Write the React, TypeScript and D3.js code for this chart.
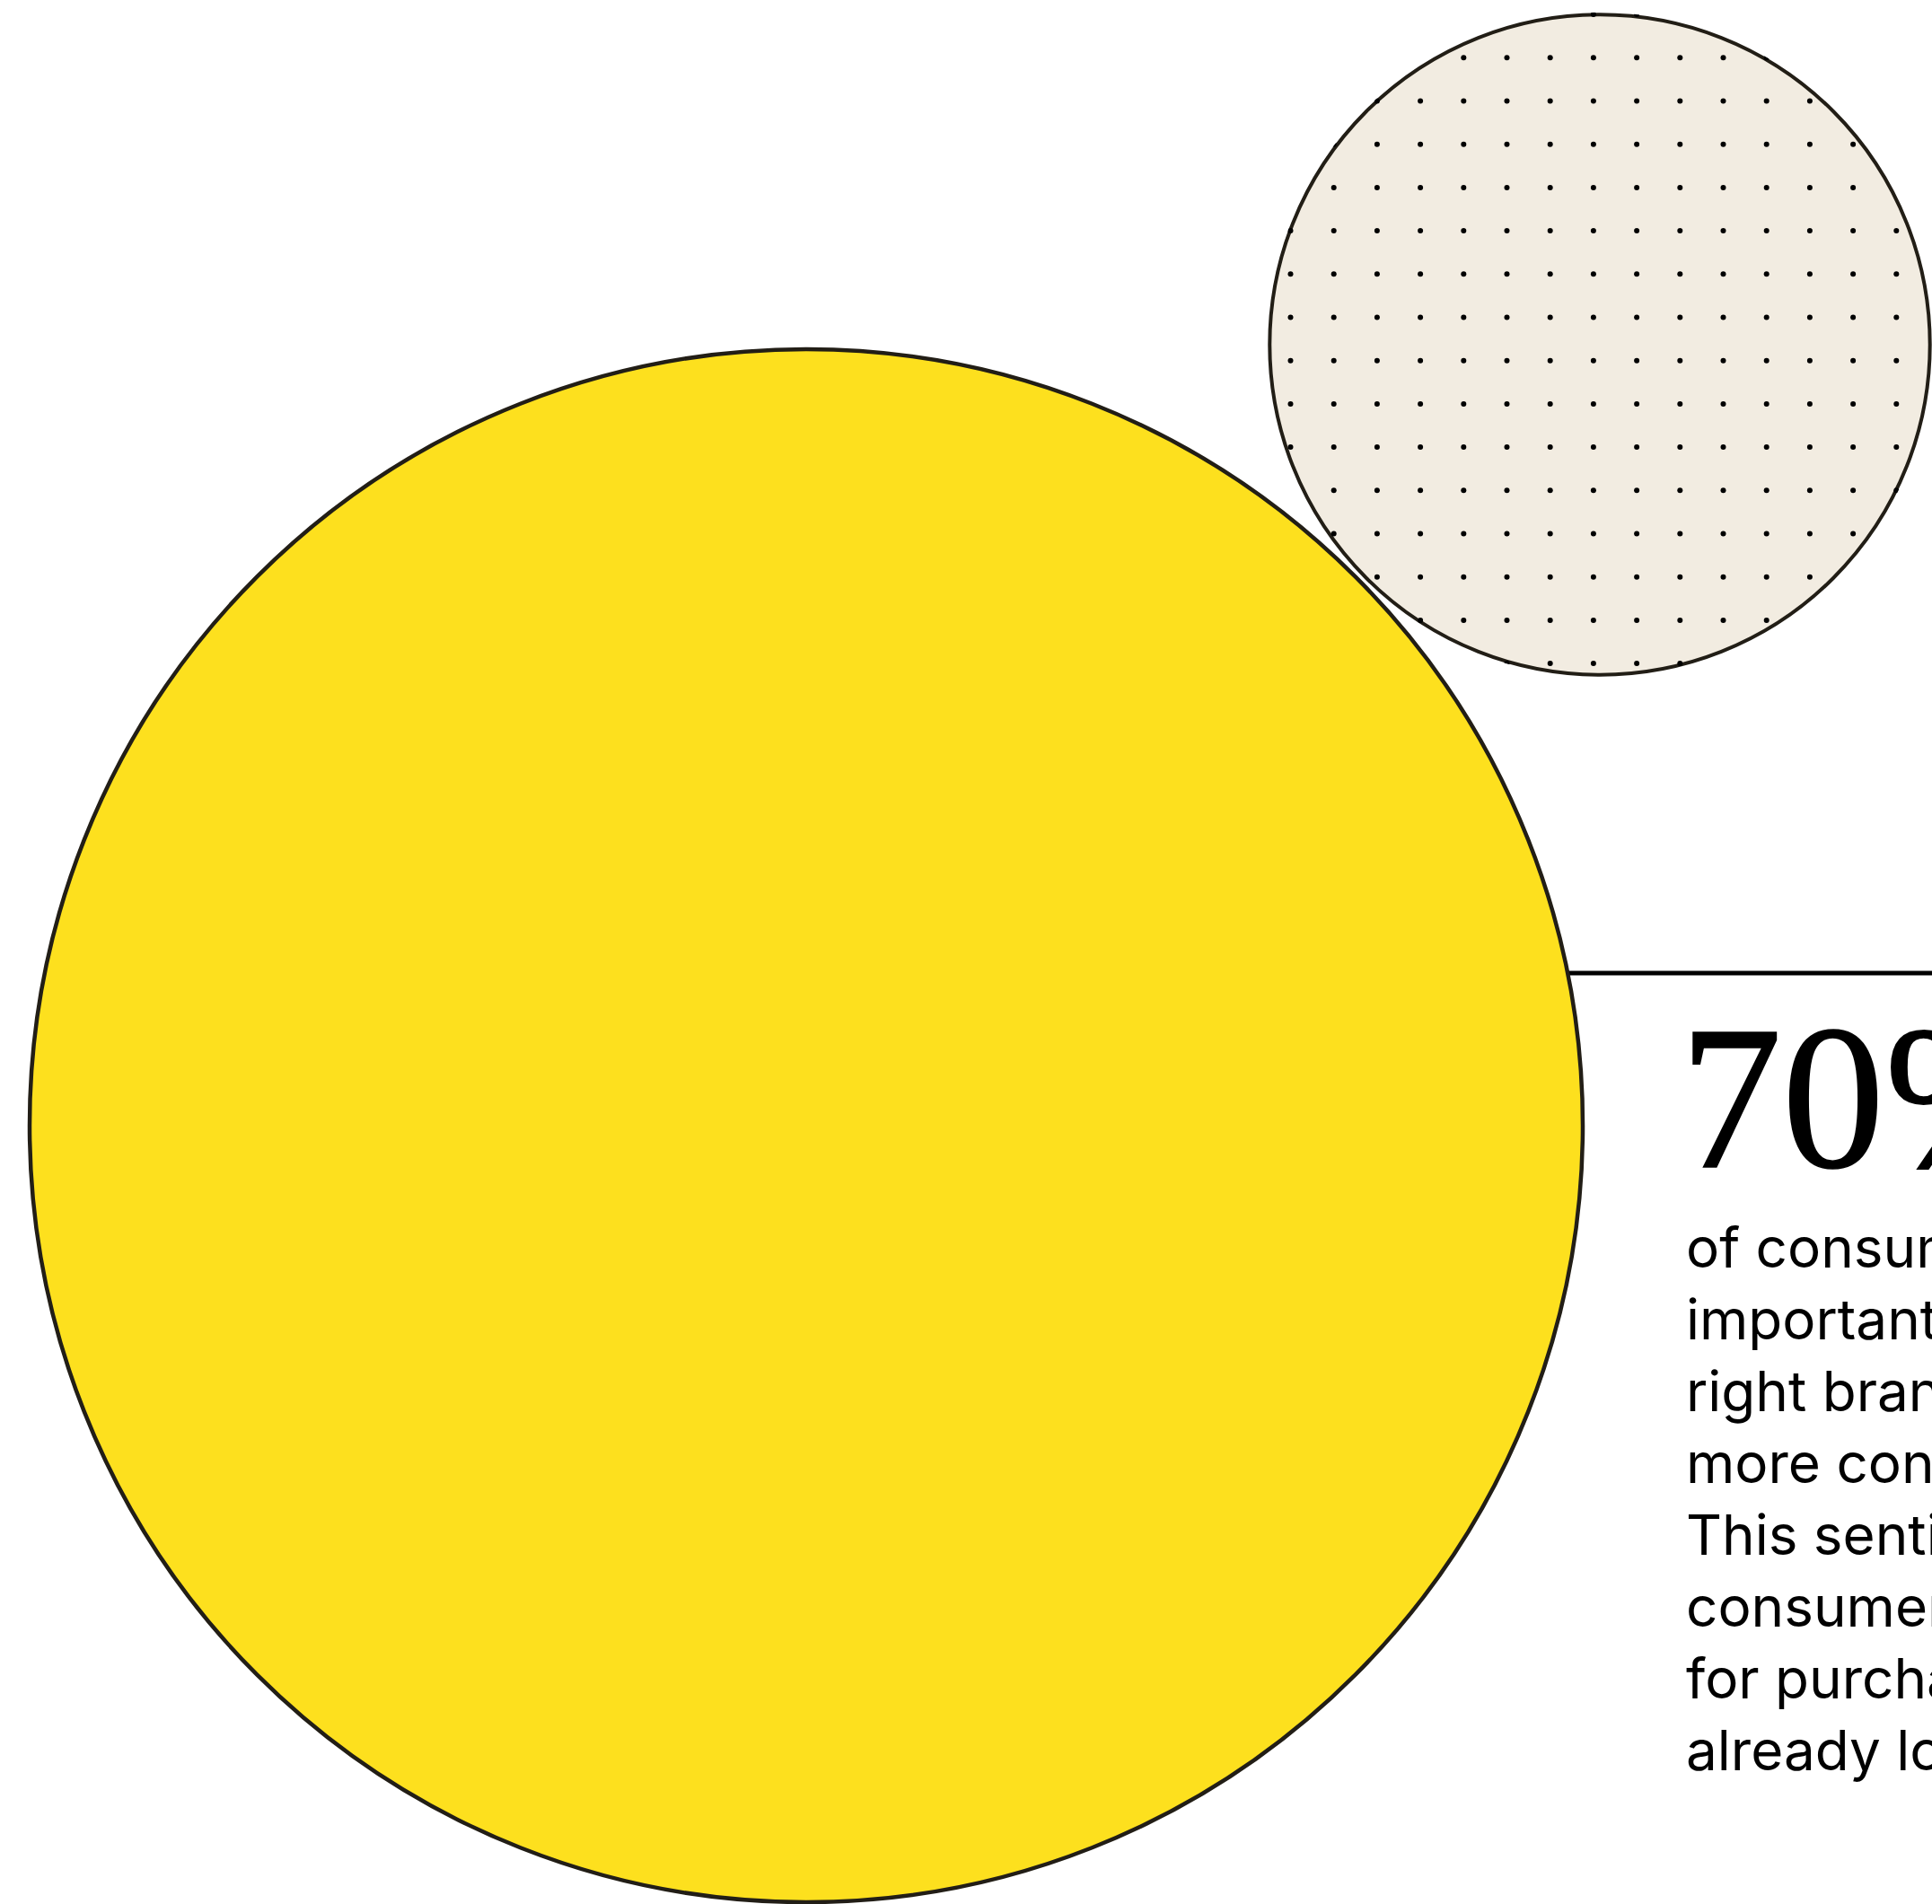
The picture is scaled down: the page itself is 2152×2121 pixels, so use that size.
import React from "react";
import * as d3 from "d3";

const W = 2152;
const H = 2121;

// Data
const circleNames = ["consumers", "others"];
const circleValues = [70, 12.65];
const statLabel = "70%";
const bodyLines = [
  "of consumers say it's",
  "important to them that the",
  "right brands make them feel",
  "more connected to the world.",
  "This sentiment is higher among",
  "consumers who are shopping",
  "for purchases than those",
  "already loyal to a brand.",
];

const rScale = d3.scaleSqrt().domain([0, 70]).range([0, 865]);

const layout = [
  { cx: 898, cy: 1254, fill: "#FDE01E" },
  { cx: 1782, cy: 384, fill: "#F2ECE1" },
];

const STROKE = "#221E16";

export default function App() {
  const big = { ...layout[0], r: rScale(circleValues[0]) };
  const small = { ...layout[1], r: rScale(circleValues[1]) };

  const step = 48.2;
  const x0 = 1485.7;
  const y0 = 64.3;
  const xs = d3.range(-2, 16).map((i) => x0 + i * step).filter((x) => x > 1400 && x < W);
  const ys = d3.range(-1, 15).map((j) => y0 + j * step).filter((y) => y > 0 && y < 770);
  const dots: { x: number; y: number }[] = [];
  xs.forEach((x) =>
    ys.forEach((y) => {
      if (Math.hypot(x - small.cx, y - small.cy) <= small.r + 3.5) dots.push({ x, y });
    })
  );

  const lineY = d3.scaleLinear().domain([0, bodyLines.length - 1]).range([1412, 1412 + 80 * (bodyLines.length - 1)]);

  return (
    <div style={{ position: "absolute", left: 0, top: 0, width: W, height: H, overflow: "hidden", background: "#fff" }}>
      <svg width={W} height={H} viewBox={`0 0 ${W} ${H}`} style={{ display: "block" }}>
        <defs>
          <clipPath id="smallClip">
            <circle cx={small.cx} cy={small.cy} r={small.r + 2.5} />
          </clipPath>
        </defs>
        <rect x={0} y={0} width={W} height={H} fill="#fff" />
        <line x1={1720} x2={W} y1={1084} y2={1084} stroke="#000" strokeWidth={5} />
        <circle cx={small.cx} cy={small.cy} r={small.r} fill={small.fill} stroke={STROKE} strokeWidth={4} data-name={circleNames[1]} />
        <g clipPath="url(#smallClip)">
          {dots.map((d, i) => (
            <circle key={i} cx={d.x} cy={d.y} r={3} fill="#000" />
          ))}
        </g>
        <circle cx={big.cx} cy={big.cy} r={big.r} fill={big.fill} stroke={STROKE} strokeWidth={4.5} data-name={circleNames[0]} />
        <text x={1871} y={1300} fontFamily="'Liberation Serif', 'DejaVu Serif', serif" fontSize={228} fill="#000" stroke="#000" strokeWidth={1.5}>
          {statLabel}
        </text>
        {bodyLines.map((t, i) => (
          <text key={i} x={1878} y={lineY(i)} fontFamily="Inter, 'Noto Sans', sans-serif" fontSize={62} fill="#000">
            {t}
          </text>
        ))}
      </svg>
    </div>
  );
}
